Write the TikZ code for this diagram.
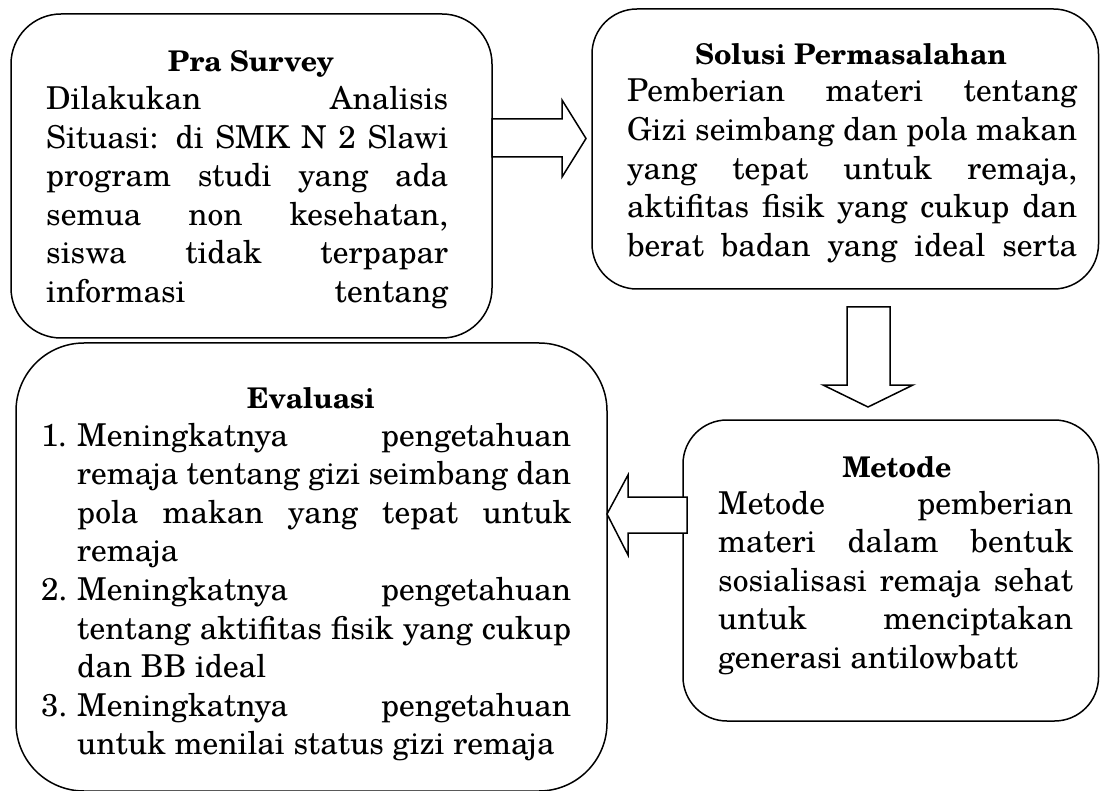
\documentclass[tikz,border=0pt]{standalone}
\usepackage{fontspec}
\setmainfont{TeX Gyre Schola}
\newcommand\bodyfont{\fontsize{31.5}{38.5}\selectfont}
\newcommand\titlefont{\fontsize{28.5}{34}\selectfont\bfseries}
\newcommand\jline[5]{\node[ln] (#1) at (#2,#3) {\hbox to #4pt{#5}};}
\newcommand\lline[4]{\node[ln] (#1) at (#2,#3) {#4};}
\begin{document}
\begin{tikzpicture}[x=1pt,y=-1pt,
  box/.style={draw=black, line width=1.5pt, fill=white, inner sep=0pt},
  ln/.style={anchor=base west, inner sep=0pt, font=\bodyfont},
  ttl/.style={anchor=base, inner sep=0pt, font=\titlefont},
  blk/.style={draw=black, line width=1.5pt, fill=white, line join=miter}]
\fill[white] (0,0) rectangle (1100,791);
\useasboundingbox (0,0) rectangle (1100,791);
% boxes
\node[box, rounded corners=50pt, minimum width=481pt, minimum height=324pt] (pra) at (251.5,176) {};
\node[box, rounded corners=45pt, minimum width=506.5pt, minimum height=280pt] (sol) at (845.25,149) {};
\node[box, rounded corners=44pt, minimum width=415.5pt, minimum height=301pt] (met) at (890.75,570.5) {};
\node[box, rounded corners=68pt, minimum width=591pt, minimum height=448pt] (eva) at (311.5,567) {};
% block arrows
\draw[blk] (492,119) -- (562,119) -- (562,100) -- (586,138.5) -- (562,177) -- (562,157) -- (492,157) -- cycle;
\draw[blk] (847,307) -- (890,307) -- (890,385) -- (913,385) -- (868,407) -- (823,385) -- (847,385) -- cycle;
\draw[blk] (687,497) -- (628,497) -- (628,475) -- (607,514) -- (628,555) -- (628,533) -- (687,533) -- cycle;
% Pra Survey
\node[ttl] (praT) at (251,72) {Pra Survey};
\jline{pra1}{46}{110}{402}{Dilakukan Analisis}
\jline{pra2}{46}{148.5}{402}{Situasi: di SMK N 2 Slawi}
\jline{pra3}{46}{187}{402}{program studi yang ada}
\jline{pra4}{46}{225.5}{402}{semua non kesehatan,}
\jline{pra5}{46}{264}{402}{siswa tidak terpapar}
\jline{pra6}{46}{302.5}{402}{informasi tentang}
% Solusi
\node[ttl] (solT) at (851,65) {Solusi Permasalahan};
\jline{sol1}{627}{102}{450}{Pemberian materi tentang}
\jline{sol2}{627}{140.6}{450}{Gizi seimbang dan pola makan}
\jline{sol3}{627}{179.2}{450}{yang tepat untuk remaja,}
\jline{sol4}{627}{217.8}{450}{aktifitas fisik yang cukup dan}
\jline{sol5}{627}{256.4}{450}{berat badan yang ideal serta}
% Metode
\node[ttl] (metT) at (897,477) {Metode};
\jline{met1}{718}{514}{355}{Metode pemberian}
\jline{met2}{718}{552.6}{355}{materi dalam bentuk}
\jline{met3}{718}{591.2}{355}{sosialisasi remaja sehat}
\jline{met4}{718}{629.8}{355}{untuk menciptakan}
\lline{met5}{718}{668.4}{generasi antilowbatt}
% Evaluasi
\node[ttl] (evaT) at (311,408) {Evaluasi};
\lline{n1}{41}{446}{1.}
\jline{eva1}{77}{446}{494}{Meningkatnya pengetahuan}
\jline{eva2}{77}{484.6}{494}{remaja tentang gizi seimbang dan}
\jline{eva3}{77}{523.2}{494}{pola makan yang tepat untuk}
\lline{eva4}{77}{561.8}{remaja}
\lline{n2}{41}{600.4}{2.}
\jline{eva5}{77}{600.4}{494}{Meningkatnya pengetahuan}
\jline{eva6}{77}{639}{494}{tentang aktifitas fisik yang cukup}
\lline{eva7}{77}{677.6}{dan BB ideal}
\lline{n3}{41}{716.2}{3.}
\jline{eva8}{77}{716.2}{494}{Meningkatnya pengetahuan}
\lline{eva9}{77}{754.8}{untuk menilai status gizi remaja}
\end{tikzpicture}
\end{document}
